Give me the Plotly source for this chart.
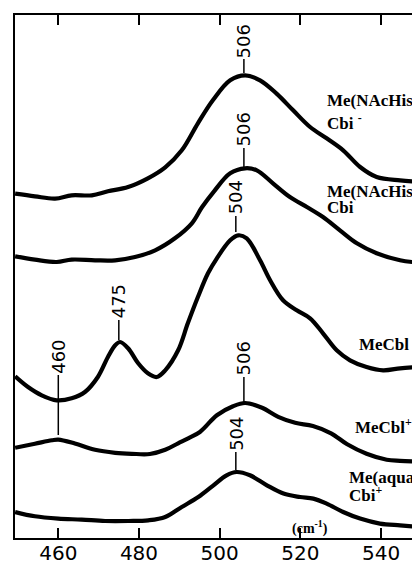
import plotly.graph_objects as go

# Raman shift (cm-1) and stacked intensity for each spectrum, top to bottom
wn_nachis_minus = [449.3, 454.2, 459.2, 463.3, 468.3, 472.3, 477.3, 482.2, 486.5, 490.6, 494.6, 498.3,
                   502.6, 506.3, 510.0, 514.1, 518.2, 522.4, 526.5, 530.6, 534.8, 538.9, 544.7, 547.7]
int_nachis_minus = [344.4, 341.7, 339.4, 342.7, 342.7, 346.7, 351.0, 359.7, 370.7, 387.7, 414.7, 437.7,
                    457.7, 462.7, 457.7, 444.4, 427.7, 411.0, 399.7, 387.7, 371.0, 361.0, 357.7, 356.7]

wn_nachis = [449.3, 454.2, 459.6, 463.3, 469.1, 474.1, 479.0, 484.0, 488.9, 493.1, 495.6, 498.6,
             502.6, 506.3, 509.2, 513.2, 517.4, 521.6, 525.6, 529.8, 534.0, 538.9, 544.7, 547.7]
int_nachis = [281.7, 278.4, 276.0, 278.4, 277.7, 277.7, 281.0, 287.7, 299.7, 314.7, 330.7, 346.7,
              364.7, 369.7, 367.7, 354.7, 341.0, 331.0, 321.0, 307.7, 294.7, 284.7, 277.7, 276.0]

wn_mecbl = [449.3, 452.5, 455.9, 459.6, 463.3, 466.6, 469.8, 472.3, 474.1, 475.3, 477.3, 479.8,
            482.2, 484.4, 486.5, 489.7, 492.1, 494.6, 497.1, 499.3, 502.6, 504.6, 506.7, 510.0,
            512.5, 515.7, 519.1, 522.4, 525.6, 529.0, 532.3, 536.4, 540.5, 544.7, 547.7]
int_mecbl = [161.7, 151.0, 142.7, 137.7, 139.7, 146.0, 161.0, 181.0, 192.7, 196.0, 189.7, 174.7,
             164.7, 161.0, 167.7, 187.7, 214.7, 241.0, 264.7, 279.7, 297.7, 302.7, 299.7, 277.7,
             257.7, 237.7, 227.7, 219.7, 204.7, 187.7, 177.7, 171.0, 167.7, 169.7, 170.7]

wn_mecbl_plus = [449.3, 454.2, 458.4, 460.0, 464.1, 469.1, 474.1, 478.2, 482.7, 486.5, 489.7, 492.2, 495.1,
                 499.3, 503.3, 506.3, 510.5, 514.5, 518.7, 523.1, 527.6, 531.6, 536.4, 541.4, 544.7, 547.7]
int_mecbl_plus = [90.2, 94.2, 97.7, 98.4, 94.5, 88.2, 85.2, 84.2, 84.0, 88.2, 94.7, 99.7, 106.0,
                  122.7, 131.7, 135.0, 130.2, 121.2, 115.2, 112.0, 104.7, 93.7, 84.2, 78.2, 77.2, 76.7]

wn_aqua = [449.3, 454.2, 460.0, 465.8, 471.6, 477.4, 482.3, 486.5, 490.6, 494.7, 498.3, 501.7,
           504.2, 507.5, 511.7, 515.8, 519.9, 523.2, 526.5, 530.6, 534.8, 539.7, 544.7, 547.7]
int_aqua = [26.0, 21.7, 19.4, 18.4, 17.0, 17.0, 17.7, 21.0, 31.0, 41.0, 52.2, 62.7,
            66.0, 62.7, 52.7, 44.4, 41.0, 39.4, 34.4, 26.0, 19.4, 14.4, 12.7, 11.7]

spectra = [
    (wn_nachis_minus, int_nachis_minus),
    (wn_nachis, int_nachis),
    (wn_mecbl, int_mecbl),
    (wn_mecbl_plus, int_mecbl_plus),
    (wn_aqua, int_aqua),
]

# Peak markers: value, text centre height, marker line bottom/top
peak_values = [506, 506, 504, 475, 460, 506, 504]
peak_text_y = [496.5, 408.5, 340.5, 236.5, 181.5, 179.5, 104.0]
peak_line_lo = [465, 371, 306, 198, 103, 136, 68]
peak_line_hi = [479, 390, 322, 218, 163, 161, 86]

# Sample names at the right-hand side
sample_text = ["Me(NAcHis)", "Cbi <sup>-</sup>", "Me(NAcHis)", "Cbi", "MeCbl",
               "MeCbl<sup>+</sup>", "Me(aqua)", "Cbi<sup>+</sup>"]
sample_x = [526.2, 526.2, 526.2, 526.2, 534.0, 533.0, 531.5, 531.5]
sample_y = [438, 416, 347, 331, 194, 112, 61, 44]

x_ticks = [460, 480, 500, 520, 540]

fig = go.Figure()
for wn, inten in spectra:
    fig.add_trace(go.Scatter(
        x=wn, y=inten, mode="lines",
        line=dict(color="black", width=4.2, shape="spline", smoothing=1.0),
        showlegend=False, hoverinfo="skip",
    ))

for v, ty, lo, hi in zip(peak_values, peak_text_y, peak_line_lo, peak_line_hi):
    fig.add_shape(type="line", x0=v, x1=v, y0=lo, y1=hi, xref="x", yref="y",
                  line=dict(color="black", width=1.5))
    fig.add_annotation(x=v, y=ty, text=str(v), textangle=-90, showarrow=False,
                       xanchor="center", yanchor="middle",
                       font=dict(family="DejaVu Sans", size=18, color="black"))

for t, sx, sy in zip(sample_text, sample_x, sample_y):
    fig.add_annotation(x=sx, y=sy, text="<b>" + t + "</b>", showarrow=False,
                       xanchor="left", yanchor="middle",
                       font=dict(family="Liberation Serif", size=17, color="black"))

fig.add_annotation(x=522.4, y=11, text="<b>(cm<sup>-1</sup>)</b>", showarrow=False,
                   xanchor="center", yanchor="middle",
                   font=dict(family="Liberation Serif", size=14, color="black"))

fig.update_layout(
    width=412, height=561,
    margin=dict(l=15, r=0, t=15, b=23),
    paper_bgcolor="white", plot_bgcolor="white",
    xaxis=dict(range=[449.27, 547.66], tickvals=x_ticks, ticks="inside", ticklen=10,
               tickwidth=2, tickcolor="black", showline=True, linecolor="black",
               linewidth=2, mirror="ticks", showgrid=False, zeroline=False,
               automargin=False, ticklabelstandoff=-4,
               tickfont=dict(family="DejaVu Sans", size=20, color="black")),
    yaxis=dict(range=[0, 523], showline=True, linecolor="black", linewidth=2,
               showticklabels=False, ticks="", showgrid=False, zeroline=False,
               automargin=False),
)

fig.write_html("out.html")
